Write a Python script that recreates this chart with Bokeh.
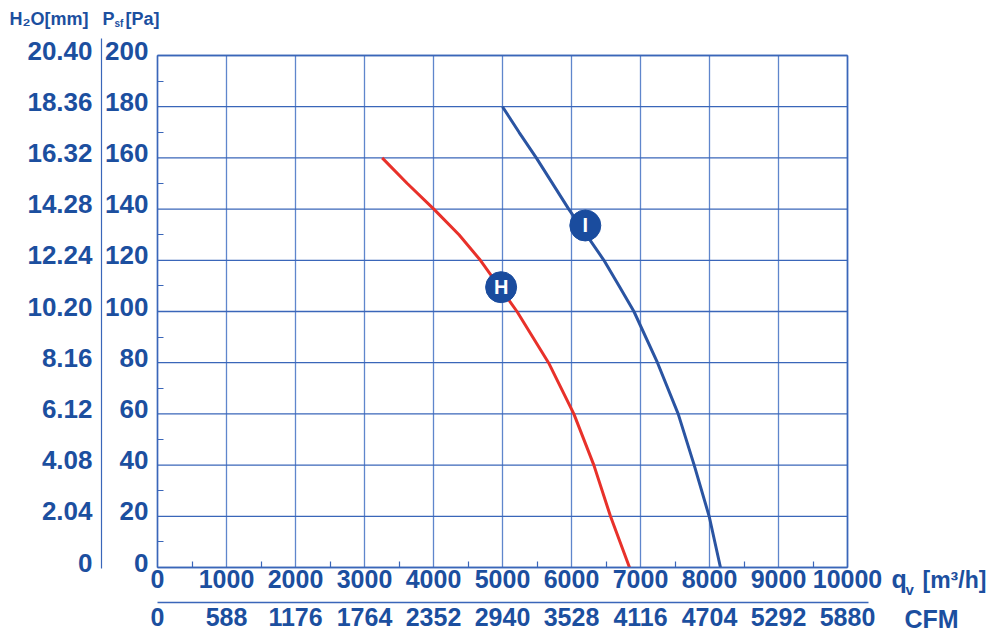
from bokeh.plotting import figure
from bokeh.models import Range1d, LinearAxis, FixedTicker, Label
from bokeh.core.properties import value
from bokeh.embed import file_html
from bokeh.resources import INLINE

# ---- data ----
flow_ticks = [0, 1000, 2000, 3000, 4000, 5000, 6000, 7000, 8000, 9000, 10000]
flow_minor = [500, 1500, 2500, 3500, 4500, 5500, 6500, 7500, 8500, 9500]
cfm_labels = ["0", "588", "1176", "1764", "2352", "2940", "3528", "4116", "4704", "5292", "5880"]
pa_ticks = [0, 20, 40, 60, 80, 100, 120, 140, 160, 180, 200]
pa_minor = [10, 30, 50, 70, 90, 110, 130, 150, 170, 190]
h2o_labels = ["0", "2.04", "4.08", "6.12", "8.16", "10.20", "12.24", "14.28", "16.32", "18.36", "20.40"]

curve_h_q = [3256, 3620, 4005, 4370, 4680, 5210, 5667, 6034, 6324, 6565, 6841]
curve_h_p = [160, 150, 140, 130, 120, 100, 80, 60, 40, 20, 0]
curve_i_q = [5000, 5240, 5490, 5960, 6470, 6690, 6905, 7246, 7546, 7778, 7995, 8159]
curve_i_p = [180, 170, 160, 140, 120, 110, 100, 80, 60, 40, 20, 0]

marker_names = ["H", "I"]
marker_q = [4980, 6200]
marker_p = [109.5, 133.6]

# ---- layout / style ----
W, H = 992, 632
X0_PX, Y0_PX = 157, 567          # screen position of (0, 0)
PX_PER_Q, PX_PER_P = 0.069, 2.56  # pixels per data unit
LBL_OFF = 5 / PX_PER_P            # tick labels sit 5px above their grid line

def fx(sx):
    return (sx - X0_PX) / PX_PER_Q

def fy(sy):
    return (Y0_PX - sy) / PX_PER_P

TXT = "#1c4f9f"
GRID_H = "#3a66b9"
GRID_V = "#5f86cc"
FONT = "Liberation Sans"

p = figure(width=W, height=H, x_range=Range1d(fx(0), fx(W)), y_range=Range1d(fy(H), fy(0)),
           output_backend="svg", toolbar_location=None, min_border=0)
p.extra_y_ranges = {"lbl": Range1d(fy(H) - LBL_OFF, fy(0) - LBL_OFF)}
p.background_fill_color = "white"
p.border_fill_color = "white"
p.outline_line_color = None
p.xgrid.visible = False
p.ygrid.visible = False

# grid lines (only across the chart area)
p.segment(x0=flow_ticks, y0=pa_ticks[0], x1=flow_ticks, y1=pa_ticks[-1],
          line_color=GRID_V, line_width=1.3)
p.segment(x0=flow_ticks[0], y0=pa_ticks, x1=flow_ticks[-1], y1=pa_ticks,
          line_color=GRID_H, line_width=1.3)

def style_axis(ax, standoff, size="25px"):
    ax.major_label_text_font = FONT
    ax.major_label_text_font_size = size
    ax.major_label_text_font_style = "bold"
    ax.major_label_text_color = TXT
    ax.major_label_standoff = standoff
    ax.major_tick_in = 0
    ax.major_tick_out = 0
    ax.minor_tick_in = 6
    ax.minor_tick_out = 0
    ax.minor_tick_line_color = GRID_H
    ax.minor_tick_line_width = 1.2
    ax.axis_line_color = GRID_H
    ax.axis_line_width = 1.5

# left frame line + minor ticks
ya = p.yaxis[0]
ya.fixed_location = 0
ya.bounds = (pa_ticks[0], pa_ticks[-1])
ya.ticker = FixedTicker(ticks=[], minor_ticks=pa_minor)
style_axis(ya, 10)

# Pa labels
pa_axis = LinearAxis(y_range_name="lbl", fixed_location=0,
                     ticker=FixedTicker(ticks=pa_ticks, minor_ticks=[]))
style_axis(pa_axis, 9, "26px")
pa_axis.axis_line_color = None
p.add_layout(pa_axis, "left")

# H2O labels with separator line
h2o_axis = LinearAxis(y_range_name="lbl", fixed_location=fx(101),
                      ticker=FixedTicker(ticks=pa_ticks, minor_ticks=[]),
                      major_label_overrides={t: l for t, l in zip(pa_ticks, h2o_labels)},
                      bounds=(fy(568) - LBL_OFF, fy(38) - LBL_OFF))
style_axis(h2o_axis, 9, "26px")
h2o_axis.axis_line_width = 1.2
p.add_layout(h2o_axis, "left")

# flow axis
xa = p.xaxis[0]
xa.fixed_location = 0
xa.bounds = (flow_ticks[0], flow_ticks[-1])
xa.ticker = FixedTicker(ticks=flow_ticks, minor_ticks=flow_minor)
style_axis(xa, 2)

# CFM axis with separator line
cfm_axis = LinearAxis(fixed_location=fy(602), bounds=(flow_ticks[0], fx(868)),
                      ticker=FixedTicker(ticks=flow_ticks, minor_ticks=[]),
                      major_label_overrides={t: l for t, l in zip(flow_ticks, cfm_labels)})
style_axis(cfm_axis, 5)
p.add_layout(cfm_axis, "below")

# top and right frame lines
p.segment(x0=flow_ticks[0], y0=pa_ticks[-1], x1=flow_ticks[-1], y1=pa_ticks[-1],
          line_color=GRID_H, line_width=1.6)
p.segment(x0=flow_ticks[-1], y0=pa_ticks[0], x1=flow_ticks[-1], y1=pa_ticks[-1],
          line_color=GRID_H, line_width=1.6)

# curves
p.line(curve_h_q, curve_h_p, line_color="#e8312a", line_width=3)
p.line(curve_i_q, curve_i_p, line_color="#2a54a2", line_width=3)

p.scatter(marker_q, marker_p, size=31, marker="circle", fill_color="#1a4c9e", line_color="#1a4c9e")
p.text(marker_q, marker_p, text=marker_names, text_align="center", text_baseline="middle",
       text_color="white", text_font=value(FONT), text_font_style="bold", text_font_size="20px")

# header / unit labels (sy = vertical middle of the text)
def lab(sx, sy, t, size):
    p.add_layout(Label(x=fx(sx), y=fy(sy), text=t, text_font=FONT, text_font_size=size,
                       text_font_style="bold", text_color=TXT, text_align="left",
                       text_baseline="middle"))

lab(9, 18.5, "H\u2082O[mm]", "18px")
lab(102, 18.5, "P", "18px")
lab(114, 23, "sf", "10px")
lab(125, 18.5, "[Pa]", "18px")
lab(891, 578, "q", "25px")
lab(905, 589, "v", "15px")
lab(922, 579, "[m\u00b3/h]", "23px")
lab(904, 618, "CFM", "25px")

open("out.html", "w").write(file_html(p, INLINE))
